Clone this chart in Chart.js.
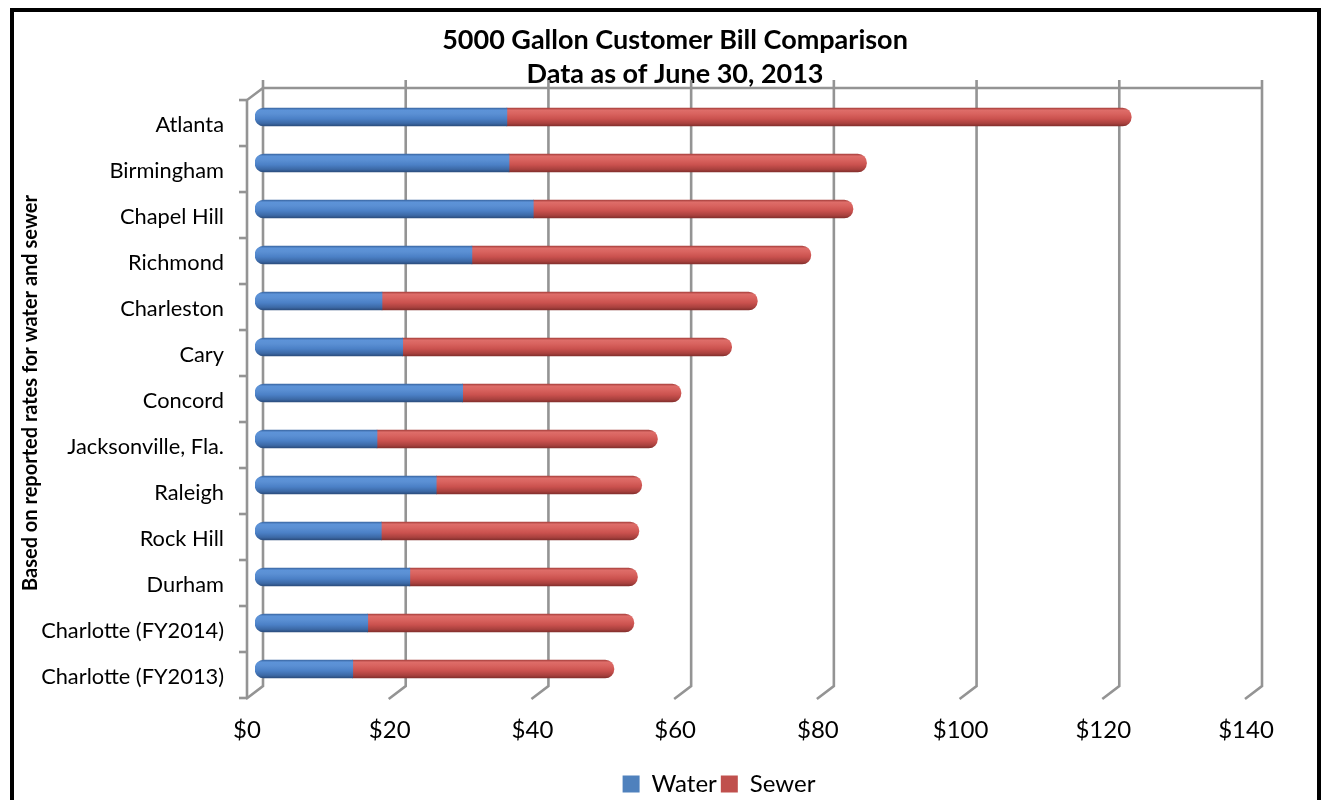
<!DOCTYPE html>
<html>
<head>
<meta charset="utf-8">
<title>5000 Gallon Customer Bill Comparison</title>
<script src="https://cdn.jsdelivr.net/npm/chart.js@4.4.1/dist/chart.umd.min.js"></script>
<style>
  html, body { margin: 0; padding: 0; background: #fff; overflow: hidden; }
  #wrap { position: relative; width: 1322px; height: 800px; }
  #wrap canvas { position: absolute; left: 0; top: 0; }
  #frame { position: absolute; left: 10px; top: 8px; width: 1303px; height: 840px;
           border: 4px solid #000; pointer-events: none; }
</style>
</head>
<body>
<div id="wrap">
  <canvas id="chart" width="1322" height="800"></canvas>
  <div id="frame"></div>
</div>
<script>
// Monthly bill for 5,000 gallons, split into water and sewer charges (USD)
const cities = [
  'Atlanta', 'Birmingham', 'Chapel Hill', 'Richmond', 'Charleston', 'Cary',
  'Concord', 'Jacksonville, Fla.', 'Raleigh', 'Rock Hill', 'Durham',
  'Charlotte (FY2014)', 'Charlotte (FY2013)'
];
const water = [35.3, 35.6, 39.0, 30.4, 17.8, 20.7, 29.1, 17.1, 25.4, 17.7, 21.7, 15.8, 13.7];
const sewer = [87.5, 50.1, 44.8, 47.5, 52.6, 46.1, 30.6, 39.3, 28.8, 36.1, 31.9, 37.3, 36.6];
const xTicks = [0, 20, 40, 60, 80, 100, 120, 140];
const titleLines = ['5000 Gallon Customer Bill Comparison', 'Data as of June 30, 2013'];
const axisNote = 'Based on reported rates for water and sewer';

// pseudo-3D look: bars sit mid-depth, back wall is up-right, floor edge down-left
const DX = 8, DY = 6;
const BAR = 18;
const FONT = 'Lato, "Open Sans", sans-serif';
const flatColors = ['#4f81bd', '#c0504d'];

function cylinder(stops, flat) {
  return (c) => {
    if (c.type !== 'data' || c.dataIndex === undefined) return flat;
    const chart = c.chart, y = chart.scales.y;
    if (!y || !chart.chartArea) return flat;
    const mid = y.getPixelForValue(c.dataIndex);
    if (!isFinite(mid)) return flat;
    const g = chart.ctx.createLinearGradient(0, mid - BAR / 2, 0, mid + BAR / 2);
    stops.forEach(([o, col]) => g.addColorStop(o, col));
    return g;
  };
}

const blueStops = [[0, '#3a67a3'], [0.12, '#5d93d8'], [0.32, '#5b90d4'], [0.6, '#4b80c6'], [0.85, '#3c69a6'], [1, '#2b4d7d']];
const redStops  = [[0, '#a8403d'], [0.12, '#de6d69'], [0.32, '#d9635f'], [0.6, '#ca514e'], [0.85, '#a9413e'], [1, '#832f2d']];

const wallPlugin = {
  id: 'walls',
  beforeDatasetsDraw(chart) {
    const { ctx, chartArea: { top, bottom }, scales: { x, y } } = chart;
    const bt = top - DY, bb = bottom - DY, ft = top + DY, fb = bottom + DY;
    const x0 = x.getPixelForValue(xTicks[0]);
    const xN = x.getPixelForValue(xTicks[xTicks.length - 1]);
    ctx.save();
    ctx.strokeStyle = '#949494';
    ctx.lineWidth = 2.6;
    ctx.lineJoin = 'miter';
    // top edge of the back wall
    ctx.beginPath();
    ctx.moveTo(x0 + DX, bt);
    ctx.lineTo(xN + DX, bt);
    ctx.stroke();
    // value gridlines on the back wall, folding onto the floor edge
    xTicks.forEach(v => {
      const px = x.getPixelForValue(v);
      ctx.beginPath();
      ctx.moveTo(px + DX, bt - 8);
      ctx.lineTo(px + DX, bb);
      ctx.lineTo(px - DX - 1, fb + 1);
      ctx.stroke();
    });
    // side wall: diagonal from the back corner, then the front category axis
    ctx.beginPath();
    ctx.moveTo(x0 + DX, bt);
    ctx.lineTo(x0 - DX, ft);
    ctx.lineTo(x0 - DX, fb);
    ctx.stroke();
    // category tick marks between groups
    for (let i = 0; i <= cities.length; i++) {
      const py = y.getPixelForValue(i - 0.5) + DY;
      ctx.beginPath();
      ctx.moveTo(x0 - DX - 8, py);
      ctx.lineTo(x0 - DX, py);
      ctx.stroke();
    }
    ctx.restore();
  }
};

// centre the title and legend over the plot rather than the whole canvas
const recentre = {
  id: 'recentre',
  afterLayout(chart) {
    const lg = chart.legend;
    if (lg) { lg.left += 92; lg.right += 92; }
    const tb = chart.titleBlock;
    if (tb) { tb.left += 48; tb.right += 48; }
  }
};

new Chart(document.getElementById('chart'), {
  type: 'bar',
  data: {
    labels: cities,
    datasets: [
      {
        label: 'Water',
        data: water,
        backgroundColor: cylinder(blueStops, flatColors[0]),
        borderWidth: 0,
        borderSkipped: false,
        borderRadius: { topLeft: BAR / 2, bottomLeft: BAR / 2, topRight: 0, bottomRight: 0 },
        barThickness: BAR
      },
      {
        label: 'Sewer',
        data: sewer,
        backgroundColor: cylinder(redStops, flatColors[1]),
        borderWidth: 0,
        borderSkipped: 'start',
        borderRadius: { topLeft: 0, bottomLeft: 0, topRight: BAR / 2, bottomRight: BAR / 2 },
        barThickness: BAR
      }
    ]
  },
  options: {
    indexAxis: 'y',
    responsive: false,
    animation: false,
    layout: { padding: { left: 0, right: 68, top: 0, bottom: -6 } },
    scales: {
      x: {
        stacked: true,
        min: 0,
        max: 140,
        grid: { display: false, drawTicks: false },
        border: { display: false },
        ticks: {
          stepSize: 20,
          padding: 24,
          labelOffset: -DX,
          color: '#000',
          font: { family: FONT, size: 24 },
          callback: v => '$' + v
        },
        afterFit(scale) { scale.height = 76; }
      },
      y: {
        stacked: true,
        grid: { display: false, drawTicks: false },
        border: { display: false },
        ticks: {
          padding: 31,
          labelOffset: DY + 2,
          color: '#000',
          font: { family: FONT, size: 21.8 }
        },
        title: {
          display: true,
          text: axisNote,
          color: '#000',
          font: { family: FONT, size: 20, weight: 'bold', lineHeight: 1.2 },
          padding: { top: 19, bottom: 0 }
        },
        afterFit(scale) { scale.width = 255; }
      }
    },
    plugins: {
      title: {
        display: true,
        text: titleLines,
        color: '#000',
        font: { family: FONT, size: 27, weight: 'bold', lineHeight: 1.26 },
        padding: { top: 23, bottom: 3 }
      },
      legend: {
        position: 'bottom',
        labels: {
          color: '#000',
          font: { family: FONT, size: 24 },
          boxWidth: 17,
          boxHeight: 17,
          padding: 4,
          generateLabels(chart) {
            return Chart.defaults.plugins.legend.labels.generateLabels(chart)
              .map((item, i) => Object.assign(item, {
                fillStyle: flatColors[i], strokeStyle: flatColors[i], lineWidth: 0
              }));
          }
        }
      },
      tooltip: { enabled: false }
    }
  },
  plugins: [wallPlugin, recentre]
});
</script>
</body>
</html>
